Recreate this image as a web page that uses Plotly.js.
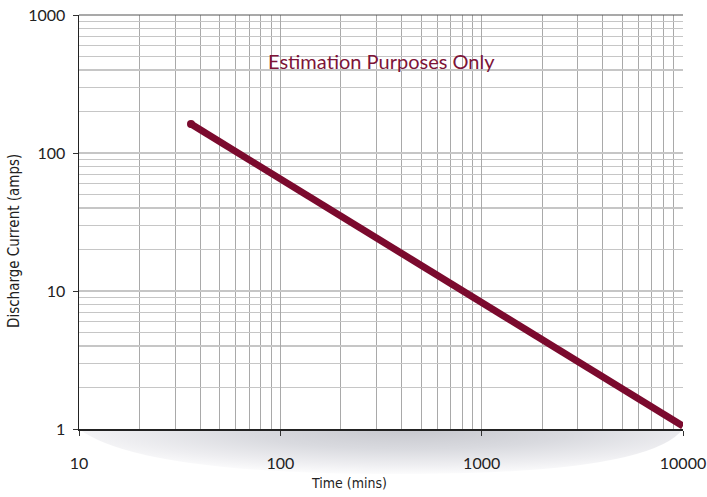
<!DOCTYPE html>
<html>
<head>
<meta charset="utf-8">
<script src="https://cdn.plot.ly/plotly-3.0.1.min.js"></script>
<style>html,body{margin:0;padding:0;background:#fff;}#chart{width:707px;height:497px;}</style>
</head>
<body>
<div id="chart"></div>
<script>
// Data
const timeMins = [36, 100, 1000, 10000];
const currentAmps = [162, 65, 8.4, 1.05];
const xTickVals = [10, 100, 1000, 10000];
const xTickText = ['10', '100', '1000', '10000'];
const yTickVals = [1, 10, 100, 1000];
const yTickText = ['1', '10', '100', '1000'];
const chartNote = 'Estimation Purposes Only';
const xTitle = 'Time (mins)';
const yTitle = 'Discharge Current (amps)';

const lineColor = '#7b0a2e';

const svg = '<svg xmlns="http://www.w3.org/2000/svg" viewBox="0 0 604 50" preserveAspectRatio="none">' +
  '<defs><radialGradient id="g" cx="0.55" cy="0" r="0.62" gradientTransform="translate(0.55 0) scale(1 1.6) translate(-0.55 0)">' +
  '<stop offset="0" stop-color="#c6c7cd"/><stop offset="0.45" stop-color="#d9dadf"/><stop offset="0.8" stop-color="#eeeef1"/><stop offset="1" stop-color="#fbfbfc"/></radialGradient></defs>' +
  '<path d="M0,0 Q60,47 320,47 Q570,47 604,0 Z" fill="url(#g)"/></svg>';
const svgUri = 'data:image/svg+xml;base64,' + btoa(svg);

const trace = {
  x: timeMins,
  y: currentAmps,
  type: 'scatter',
  mode: 'lines+markers',
  line: {color: lineColor, width: 7},
  marker: {color: lineColor, size: [8, 0, 0, 0], opacity: 1, line: {width: 0}},
  hoverinfo: 'x+y',
  showlegend: false
};

const font = 'Lato, "Open Sans", sans-serif';
const narrow = '"Liberation Sans Narrow", "DejaVu Sans Condensed", sans-serif';

const layout = {
  width: 707,
  height: 497,
  margin: {l: 79, r: 24, t: 15, b: 68},
  paper_bgcolor: '#ffffff',
  plot_bgcolor: 'rgba(0,0,0,0)',
  font: {family: font, size: 16, color: '#222'},
  xaxis: {
    type: 'log',
    range: [1, 4],
    tickvals: xTickVals,
    ticktext: xTickText,
    ticks: 'outside',
    ticklen: 5,
    tickcolor: '#333',
    ticklabelstandoff: 14,
    tickfont: {family: font, size: 16, color: '#222'},
    showline: true,
    linecolor: '#222',
    linewidth: 1.5,
    mirror: false,
    showgrid: true,
    gridcolor: '#a9a9a9',
    gridwidth: 1,
    minor: {dtick: 'D1', showgrid: true, gridcolor: '#a9a9a9', gridwidth: 1, ticklen: 0},
    zeroline: false,
    layer: 'above traces'
  },
  yaxis: {
    type: 'log',
    range: [0, 3],
    tickvals: yTickVals,
    ticktext: yTickText,
    ticks: 'outside',
    ticklen: 5,
    tickcolor: '#333',
    ticklabelstandoff: 4,
    tickfont: {family: font, size: 16, color: '#222'},
    showline: true,
    linecolor: '#222',
    linewidth: 1.5,
    showgrid: true,
    gridcolor: '#c6c6c6',
    gridwidth: 1.3,
    minor: {dtick: 'D1', showgrid: true, gridcolor: '#c6c6c6', gridwidth: 1.3, ticklen: 0},
    zeroline: false
  },
  shapes: [
    {type: 'line', xref: 'paper', yref: 'paper', x0: 0, x1: 1, y0: 1, y1: 1, line: {color: '#555', width: 1.2}}
  ],
  images: [{
    source: svgUri,
    xref: 'paper', yref: 'paper',
    x: 0, y: 0, sizex: 1, sizey: 48 / 414,
    xanchor: 'left', yanchor: 'top',
    sizing: 'stretch', layer: 'below'
  }],
  annotations: [
    {text: chartNote, xref: 'paper', yref: 'paper', x: 0.5, y: 0.888, xanchor: 'center', yanchor: 'middle',
     showarrow: false, font: {family: font, size: 20, color: '#7d1438'}},
    {text: xTitle, xref: 'paper', yref: 'paper', x: (349 - 79) / 604, y: -54 / 414, xanchor: 'center', yanchor: 'middle',
     showarrow: false, font: {family: narrow, size: 14, color: '#222'}},
    {text: yTitle, xref: 'paper', yref: 'paper', x: -65 / 604, y: (429 - 241) / 414, xanchor: 'center', yanchor: 'middle',
     textangle: -90, showarrow: false, font: {family: narrow, size: 15, color: '#222'}}
  ]
};

Plotly.newPlot('chart', [trace], layout, {displayModeBar: false, staticPlot: true});
</script>
</body>
</html>
